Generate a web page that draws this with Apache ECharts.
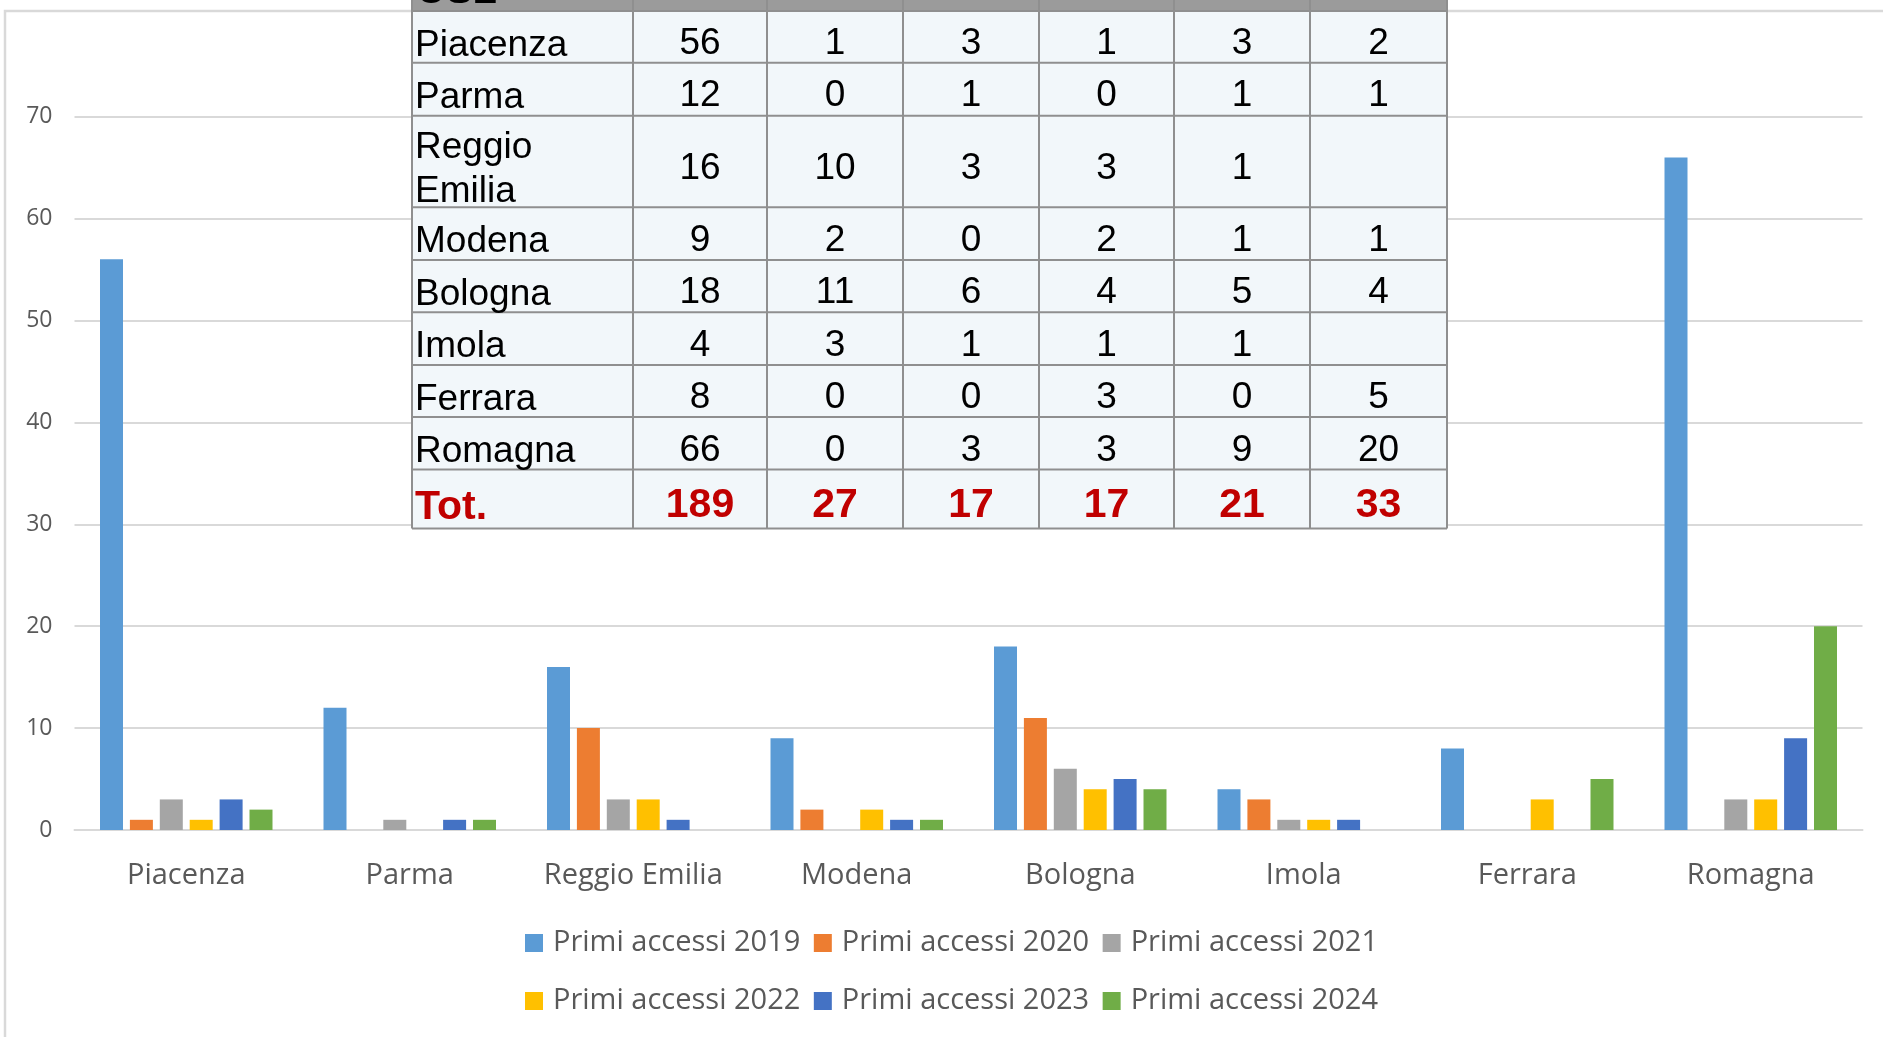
<!DOCTYPE html>
<html>
<head>
<meta charset="utf-8">
<script src="https://cdn.jsdelivr.net/npm/echarts@6/dist/echarts.min.js"></script>
<style>
  html, body { margin: 0; padding: 0; background: #fff; }
  #chart { width: 1883px; height: 1037px; }
</style>
</head>
<body>
<div id="chart"></div>
<script>
// dati: primi accessi per USL
const categories = ['Piacenza', 'Parma', 'Reggio Emilia', 'Modena', 'Bologna', 'Imola', 'Ferrara', 'Romagna']
const rowLabels = ['Piacenza', 'Parma', 'Reggio\nEmilia', 'Modena', 'Bologna', 'Imola', 'Ferrara', 'Romagna']
const years = ['2019', '2020', '2021', '2022', '2023', '2024']
const v2019 = [56, 12, 16, 9, 18, 4, 8, 66]
const v2020 = [1, 0, 10, 2, 11, 3, 0, 0]
const v2021 = [3, 1, 3, 0, 6, 1, 0, 3]
const v2022 = [1, 0, 3, 2, 4, 1, 3, 3]
const v2023 = [3, 1, 1, 1, 5, 1, 0, 9]
const v2024 = [2, 1, null, 1, 4, null, 5, 20]
const yTicks = [0, 10, 20, 30, 40, 50, 60, 70]

const values = [v2019, v2020, v2021, v2022, v2023, v2024]
const names = years.map(y => 'Primi accessi ' + y)
const colors = ['#5B9BD5', '#ED7D31', '#A5A5A5', '#FFC000', '#4472C4', '#70AD47']
const font = '"Open Sans", "Noto Sans", sans-serif'
const tableFont = '"Liberation Sans", Arial, sans-serif'

// tabella sovrapposta (in alto)
const colX = [412, 633, 767, 903, 1039, 1174, 1310, 1447]
const rowY = [11, 62.7, 115.7, 207.3, 260, 312.3, 365, 417, 469.6, 528.4]
const lineCol = '#8f8f8f'

function tableElements() {
  const els = []
  const left = colX[0], w = colX[colX.length - 1] - colX[0]
  const bottom = rowY[rowY.length - 1]
  els.push({ type: 'rect', z: 100, shape: { x: left, y: 0, width: w, height: bottom }, style: { fill: '#f2f7fa' } })
  els.push({ type: 'rect', z: 101, shape: { x: left, y: 0, width: w, height: rowY[0] }, style: { fill: '#9b9b9b' } })
  els.push({ type: 'text', z: 102, style: { text: 'USL', x: 417, y: 12, verticalAlign: 'bottom', font: 'bold 40px ' + tableFont, fill: '#000' } })
  rowY.forEach(y => {
    els.push({ type: 'line', z: 103, shape: { x1: colX[0], y1: y, x2: colX[colX.length - 1], y2: y }, style: { stroke: lineCol, lineWidth: 2 } })
  })
  colX.forEach(x => {
    els.push({ type: 'line', z: 103, shape: { x1: x, y1: 0, x2: x, y2: bottom }, style: { stroke: lineCol, lineWidth: 2 } })
  })
  rowLabels.forEach((lab, i) => {
    const cy = (rowY[i] + rowY[i + 1]) / 2 + 7
    els.push({ type: 'text', z: 104, style: { text: lab, x: 415, y: cy + 1.5, verticalAlign: 'middle', lineHeight: 44, font: '37px ' + tableFont, fill: '#000' } })
    values.forEach((vals, j) => {
      const v = vals[i]
      if (v === null) return
      els.push({ type: 'text', z: 104, style: { text: String(v), x: (colX[j + 1] + colX[j + 2]) / 2, y: cy, align: 'center', verticalAlign: 'middle', font: '37px ' + tableFont, fill: '#000' } })
    })
  })
  // riga totali
  const ti = rowLabels.length
  const ty = (rowY[ti] + rowY[ti + 1]) / 2 + 7
  els.push({ type: 'text', z: 104, style: { text: 'Tot.', x: 415, y: ty + 2, verticalAlign: 'middle', font: 'bold 41px ' + tableFont, fill: '#C00000' } })
  values.forEach((vals, j) => {
    const tot = vals.reduce((s, v) => s + (v || 0), 0)
    els.push({ type: 'text', z: 104, style: { text: String(tot), x: (colX[j + 1] + colX[j + 2]) / 2, y: ty, align: 'center', verticalAlign: 'middle', font: 'bold 41px ' + tableFont, fill: '#C00000' } })
  })
  return els
}

const legendBase = {
  left: 520,
  icon: 'rect',
  itemWidth: 18,
  itemHeight: 18,
  itemGap: 13.5,
  textStyle: { fontSize: 29, color: '#595959', fontFamily: font, lineHeight: 34, padding: [0, 0, 0, 5] }
}

const option = {
  animation: false,
  color: colors,
  grid: { left: 74.5, right: 20.5, top: 116.7, bottom: 207 },
  legend: [
    Object.assign({}, legendBase, { top: 921, data: names.slice(0, 3) }),
    Object.assign({}, legendBase, { top: 979, data: names.slice(3) })
  ],
  xAxis: {
    type: 'category',
    data: categories,
    axisTick: { show: false },
    axisLine: { lineStyle: { color: '#d9d9d9', width: 2 } },
    axisLabel: { interval: 0, fontSize: 29, color: '#595959', fontFamily: font, margin: 31.5 }
  },
  yAxis: {
    type: 'value',
    min: yTicks[0],
    max: yTicks[yTicks.length - 1],
    interval: 10,
    axisLine: { show: false },
    axisTick: { show: false },
    axisLabel: { fontSize: 23, color: '#595959', fontFamily: font, margin: 22, padding: [5, 0, 0, 0] },
    splitLine: { lineStyle: { color: '#d9d9d9', width: 2 } }
  },
  series: values.map((vals, i) => ({
    name: names[i],
    type: 'bar',
    data: vals,
    barWidth: 23,
    barGap: '30%'
  })),
  graphic: [
    { type: 'polyline', z: 1, shape: { points: [[5, 1100], [5, 11], [1900, 11]] }, style: { stroke: '#d9d9d9', lineWidth: 2.5, fill: null } }
  ].concat(tableElements())
}

const chart = echarts.init(document.getElementById('chart'))
chart.setOption(option)
</script>
</body>
</html>
